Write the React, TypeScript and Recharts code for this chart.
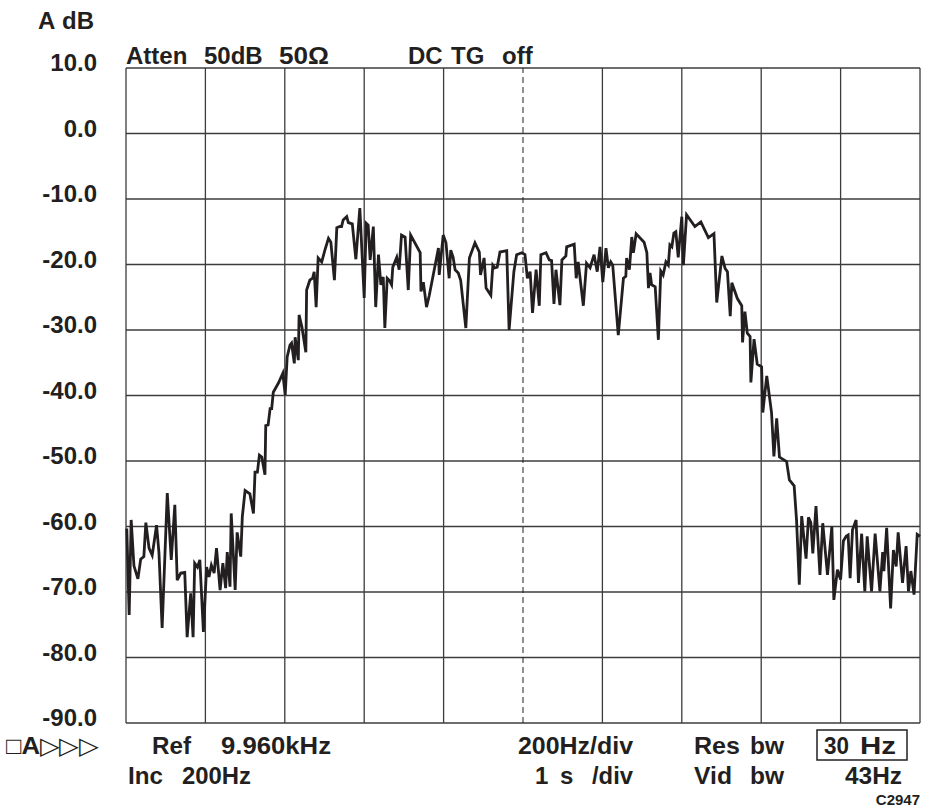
import React from "react";
import { LineChart, Line, XAxis, YAxis, CartesianGrid, ReferenceLine } from "recharts";

// Frequency offset from the reference (Hz), 200 Hz/div, 10 divisions
const freqHz: number[] = [
  2, 8, 13, 20, 30, 37, 45, 50, 58, 66, 77, 83, 91, 104, 114, 123, 129, 138, 148, 154,
  163, 169, 173, 180, 186, 195, 203, 209, 215, 222, 228, 237, 244, 251, 255, 262, 265, 275, 280, 289,
  293, 300, 312, 321, 325, 331, 336, 342, 350, 352, 358, 363, 367, 371, 384, 395, 401, 406, 413, 417,
  424, 426, 434, 436, 443, 453, 455, 463, 470, 474, 479, 484, 493, 501, 510, 516, 525, 531, 539, 543,
  547, 556, 560, 570, 579, 589, 600, 605, 610, 615, 623, 629, 636, 642, 648, 652, 658, 663, 669, 672,
  682, 688, 694, 703, 711, 717, 741, 743, 749, 757, 764, 787, 789, 799, 806, 814, 818, 824, 829, 837,
  843, 856, 865, 879, 890, 893, 902, 907, 919, 924, 929, 935, 942, 959, 965, 977, 984, 997, 1005, 1011,
  1018, 1024, 1033, 1041, 1045, 1058, 1066, 1072, 1078, 1083, 1093, 1098, 1108, 1110, 1129, 1134, 1139, 1152, 1160, 1169,
  1179, 1187, 1194, 1201, 1209, 1215, 1221, 1226, 1240, 1253, 1259, 1261, 1268, 1274, 1278, 1285, 1305, 1312, 1316, 1320,
  1324, 1333, 1341, 1347, 1353, 1360, 1366, 1370, 1375, 1380, 1385, 1391, 1400, 1404, 1412, 1433, 1448, 1467, 1481, 1488,
  1501, 1509, 1515, 1522, 1526, 1540, 1551, 1553, 1559, 1565, 1572, 1574, 1582, 1590, 1601, 1604, 1614, 1626, 1632, 1639,
  1646, 1664, 1671, 1683, 1689, 1696, 1702, 1713, 1719, 1725, 1730, 1738, 1748, 1755, 1767, 1778, 1783, 1792, 1800, 1807,
  1814, 1819, 1824, 1830, 1839, 1845, 1853, 1861, 1867, 1878, 1887, 1899, 1906, 1909, 1916, 1926, 1933, 1940, 1945, 1956,
  1965, 1971, 1977, 1985, 1993, 2000,
];

// Measured level (dB)
const levelDb: number[] = [
  -60.3, -73.5, -59, -66, -68, -65, -64.6, -59.4, -63.3, -64.4, -59.8, -64, -75.5, -54.9, -65.1, -56.7, -68.2, -67.1, -67, -76.9,
  -70.2, -76.9, -65.6, -66.2, -65.1, -76.1, -66.2, -67.7, -65.9, -67.1, -63.3, -69.7, -65.6, -69.4, -63.9, -69.2, -58, -69.7, -60.9, -64.6,
  -58.5, -54.5, -55, -58, -51.7, -51.7, -49.1, -49.4, -52.1, -44.6, -44.5, -42, -42, -39.5, -38.1, -36.6, -39.9, -34.1, -32.3, -32,
  -35.1, -31.1, -34.6, -27.7, -29.5, -33.4, -23.9, -22.4, -22.1, -21.1, -26.5, -19, -19.6, -17.8, -16, -16.6, -22.4, -14.4, -14.2, -14.2,
  -13.2, -12.7, -13.6, -13.8, -19.2, -11.4, -25.1, -13.7, -14, -19.3, -14.2, -26.5, -18.5, -23.1, -21.9, -29.7, -22.1, -22.4, -23.1, -20.4,
  -18.9, -20.8, -15.5, -15.8, -23.9, -15.5, -18.2, -24.1, -22.7, -26.5, -24.7, -17.5, -21.6, -15.5, -16.7, -22.1, -17.8, -18.9, -20.8, -21.3,
  -22.4, -29.7, -19, -16.7, -18.1, -21.6, -19, -23.6, -24.7, -20.1, -20.5, -20.4, -18.1, -17.9, -30, -21.1, -18.5, -18.2, -18.5, -22.1,
  -21.1, -27.4, -20.8, -26.3, -18.5, -18.2, -19.3, -19.4, -26, -20.8, -26.2, -19.3, -18.7, -17.3, -16.9, -22.1, -19.6, -26.3, -19.8, -20.5,
  -18.5, -21.1, -17.3, -22.7, -17.5, -20.5, -19.6, -20.1, -30.8, -22.1, -21.8, -19, -20.8, -15.8, -18.2, -15.3, -16.6, -18.2, -23.6, -21.3,
  -23.1, -23.4, -31.5, -21, -21.6, -19.6, -20.1, -17, -17.3, -15.2, -15, -18.9, -12.7, -20.1, -12.4, -14.2, -13.5, -15.9, -15.3, -25.8,
  -18.7, -20.6, -21.1, -27.9, -22.8, -25.2, -26.3, -31.9, -27.2, -30.5, -31, -38, -31.4, -35.2, -35.6, -42.6, -37, -42.6, -49.3, -43.5,
  -49.4, -50.1, -52.9, -53.8, -59, -68.9, -58.4, -64.9, -58.6, -59.4, -64.1, -56.9, -67.4, -59.5, -67.4, -60, -71.2, -66.6, -68.1, -62.2,
  -61.5, -61.3, -67.9, -60.5, -59, -68.6, -61.1, -69.9, -61.5, -69.9, -61.1, -69.9, -63.9, -66.8, -60.2, -72.5, -63.6, -66.1, -60.9, -68.6,
  -63, -69.9, -66.8, -70.4, -61.2, -61.5,
];

const yTicks: number[] = [10, 0, -10, -20, -30, -40, -50, -60, -70, -80, -90];
const xGridTicks: number[] = [0, 200, 400, 600, 800, 1200, 1400, 1600, 1800, 2000];
const centerHz = 1000;

const data = freqHz.map((f, i) => ({ f, db: levelDb[i] }));

const FONT = '"Liberation Sans", Arial, Helvetica, sans-serif';
const INK = "#231f20";
const GRID = "#3c3c3c";

const YTick = (props: any) => {
  const { y, payload } = props;
  return (
    <text x={97} y={y + 3} textAnchor="end" fontFamily={FONT} fontWeight="bold" fontSize={24} fill={INK}>
      {Number(payload.value).toFixed(1)}
    </text>
  );
};

const T = (p: {
  x: number;
  y: number;
  s?: number;
  w?: number;
  a?: "start" | "end" | "middle";
  children: React.ReactNode;
}) => (
  <text
    x={p.x}
    y={p.y}
    textAnchor={p.a || "start"}
    fontFamily={FONT}
    fontWeight="bold"
    fontSize={p.s || 24}
    fill={INK}
    {...(p.w ? { textLength: p.w, lengthAdjust: "spacingAndGlyphs" } : {})}
  >
    {p.children}
  </text>
);

export default function App() {
  return (
    <div style={{ position: "absolute", left: 0, top: 0, width: 932, height: 808, background: "#fff" }}>
      <LineChart width={932} height={808} data={data} margin={{ top: 68, right: 12, bottom: 0, left: 0 }}>
        <CartesianGrid stroke={GRID} strokeWidth={1.3} vertical={false} horizontalValues={yTicks} />
        <XAxis
          dataKey="f"
          type="number"
          domain={[0, 2000]}
          ticks={xGridTicks}
          tick={false}
          tickLine={false}
          axisLine={false}
          height={85}
        />
        <YAxis
          type="number"
          domain={[-90, 10]}
          ticks={yTicks}
          interval={0}
          width={126}
          tick={<YTick />}
          tickLine={false}
          axisLine={false}
        />
        {xGridTicks.map((v) => (
          <ReferenceLine key={v} x={v} stroke={GRID} strokeWidth={1.3} />
        ))}
        <ReferenceLine x={centerHz} stroke={INK} strokeWidth={1} strokeDasharray="6 4" />
        <Line
          type="linear"
          dataKey="db"
          stroke={INK}
          strokeWidth={2.8}
          dot={false}
          isAnimationActive={false}
          strokeLinejoin="miter"
        />
      </LineChart>
      <svg width={932} height={808} style={{ position: "absolute", left: 0, top: 0, pointerEvents: "none" }}>
        <T x={38} y={29}>A</T>
        <T x={62} y={29}>dB</T>
        <T x={126} y={64}>Atten</T>
        <T x={204} y={64}>50dB</T>
        <T x={279} y={64} w={50}>50Ω</T>
        <T x={408} y={64}>DC</T>
        <T x={451} y={64}>TG</T>
        <T x={502} y={64}>off</T>

        <text x={6} y={754} fontFamily={FONT} fontSize={24} fill={INK} textLength={92} lengthAdjust="spacingAndGlyphs">
          <tspan fontWeight="normal">□</tspan>
          <tspan fontWeight="bold">A</tspan>
          <tspan fontWeight="normal">▷▷▷</tspan>
        </text>
        <T x={152} y={754} w={39}>Ref</T>
        <T x={221} y={754} w={110}>9.960kHz</T>
        <T x={518} y={754} w={115}>200Hz/div</T>
        <T x={694} y={754} w={46}>Res</T>
        <T x={750} y={754} w={34}>bw</T>
        <rect x={817} y={730} width={90} height={30} fill="none" stroke={INK} strokeWidth={1.5} />
        <T x={824} y={754} w={25}>30</T>
        <T x={860} y={754} w={36}>Hz</T>

        <T x={128} y={784} w={35}>Inc</T>
        <T x={182} y={784} w={69}>200Hz</T>
        <T x={535} y={784}>1</T>
        <T x={560} y={784}>s</T>
        <T x={592} y={784} w={41}>/div</T>
        <T x={694} y={784} w={38}>Vid</T>
        <T x={750} y={784} w={34}>bw</T>
        <T x={845} y={784} w={57}>43Hz</T>
        <T x={920} y={805} s={15} a="end">C2947</T>
      </svg>
    </div>
  );
}
